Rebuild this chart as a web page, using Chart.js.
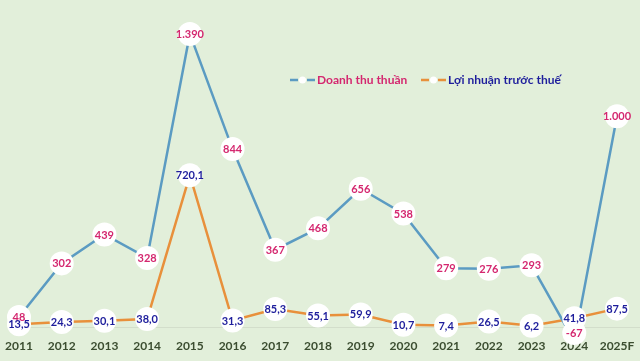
<!DOCTYPE html>
<html><head><meta charset="utf-8">
<script src="https://cdn.jsdelivr.net/npm/chart.js@4.4.1/dist/chart.umd.min.js"></script>
<style>html,body{margin:0;padding:0;background:#E2EFDA;}#wrap{width:640px;height:361px;}</style>
</head><body><div id="wrap"><canvas id="c" width="640" height="361"></canvas></div>
<script>
const categories = ["2011","2012","2013","2014","2015","2016","2017","2018","2019","2020","2021","2022","2023","2024","2025F"];
const revenue = [48, 302, 439, 328, 1390, 844, 367, 468, 656, 538, 279, 276, 293, -67, 1000];
const profit = [13.5, 24.3, 30.1, 38.0, 720.1, 31.3, 85.3, 55.1, 59.9, 10.7, 7.4, 26.5, 6.2, 41.8, 87.5];
const seriesNames = ["Doanh thu thuần", "Lợi nhuận trước thuế"];

const BLUE = '#5B9BC2', ORANGE = '#E8903B', MAG = '#D4276F', NAVY = '#1E1E9C';
const FONT = 'Lato, "Open Sans", sans-serif';

function fmtInt(v){ const s = Math.abs(v).toString().replace(/\B(?=(\d{3})+(?!\d))/g,'.'); return (v<0?'-':'')+s; }
function fmtDec(v){ return v.toFixed(1).replace('.',','); }

const bubblePlugin = {
  id:'bubbles',
  beforeDatasetsDraw(chart){
    const ctx = chart.ctx, y = chart.scales.y, a = chart.chartArea;
    const y0 = Math.round(y.getPixelForValue(0));
    ctx.save(); ctx.strokeStyle = '#D3DECB'; ctx.lineWidth = 1;
    ctx.beginPath(); ctx.moveTo(a.left-8, y0+0.5); ctx.lineTo(chart.width, y0+0.5); ctx.stroke(); ctx.restore();
  },
  afterDatasetsDraw(chart){
    const ctx = chart.ctx, a = chart.chartArea;
    const ly_ = (pt) => Math.min(pt.y, a.bottom - 4);
    ctx.save();
    ctx.font = 'bold 11px ' + FONT;
    ctx.textAlign = 'center'; ctx.textBaseline = 'middle';
    chart.data.datasets.forEach((ds, di) => {
      const meta = chart.getDatasetMeta(di);
      meta.data.forEach((pt) => {
        ctx.fillStyle = '#FFFFFF';
        ctx.beginPath(); ctx.arc(pt.x, ly_(pt), 12, 0, Math.PI*2); ctx.fill();
      });
    });
    chart.data.datasets.forEach((ds, di) => {
      const meta = chart.getDatasetMeta(di);
      meta.data.forEach((pt, i) => {
        const txt = di === 0 ? fmtInt(ds.data[i]) : fmtDec(ds.data[i]);
        ctx.fillStyle = di === 0 ? MAG : NAVY;
        ctx.fillText(txt, pt.x, ly_(pt) + 0.5);
      });
    });
    // legend
    const items = [
      {x:290, color:BLUE, text:seriesNames[0], tc:MAG},
      {x:421, color:ORANGE, text:seriesNames[1], tc:NAVY}
    ];
    const ly = 80;
    ctx.font = 'bold 12px ' + FONT;
    ctx.textAlign = 'left';
    items.forEach(it => {
      ctx.strokeStyle = it.color; ctx.lineWidth = 2.5;
      ctx.beginPath(); ctx.moveTo(it.x, ly); ctx.lineTo(it.x+8, ly); ctx.moveTo(it.x+17, ly); ctx.lineTo(it.x+25, ly); ctx.stroke();
      ctx.fillStyle = '#fff'; ctx.beginPath(); ctx.arc(it.x+12.5, ly, 3.5, 0, Math.PI*2); ctx.fill();
      ctx.fillStyle = it.tc; ctx.fillText(it.text, it.x+27, ly+0.5);
    });
    ctx.restore();
  }
};

new Chart(document.getElementById('c'), {
  type:'line',
  data:{
    labels:categories,
    datasets:[
      {label:seriesNames[0], data:revenue, borderColor:BLUE, borderWidth:2.5, pointRadius:0, tension:0, clip:false},
      {label:seriesNames[1], data:profit, borderColor:ORANGE, borderWidth:2.5, pointRadius:0, tension:0, clip:false}
    ]
  },
  options:{
    responsive:false, animation:false,
    layout:{padding:{left:19, right:23, top:5, bottom:0}},
    plugins:{legend:{display:false}, tooltip:{enabled:false}},
    scales:{
      x:{offset:false, z:1, grid:{display:false, drawTicks:false}, border:{display:false},
         afterFit(s){ s.height = 24; },
         ticks:{padding:2, color:'#3B4D30', font:{family:FONT, size:12, weight:'bold'}, maxRotation:0, autoSkip:false}},
      y:{display:false, min:-47, max:1527}
    }
  },
  plugins:[bubblePlugin]
});
</script>
</body></html>
